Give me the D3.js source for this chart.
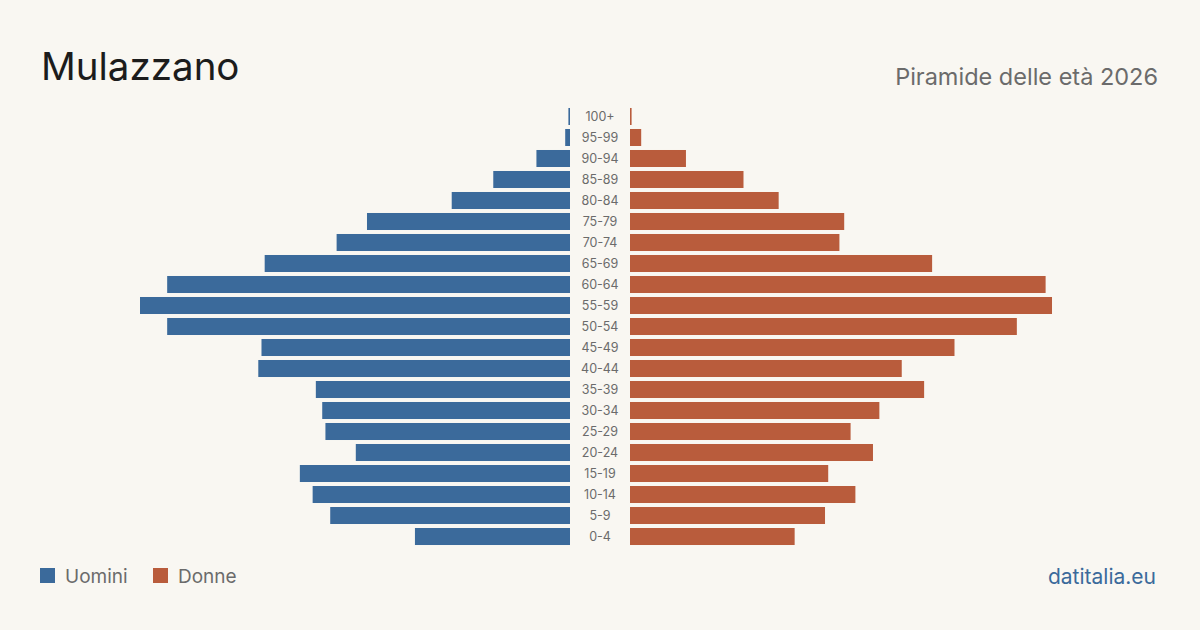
<!DOCTYPE html>
<html>
<head>
<meta charset="utf-8">
<script src="https://cdn.jsdelivr.net/npm/d3@7"></script>
<style>
  body { margin: 0; background: #f9f7f2; }
  svg { display: block; font-family: Inter, "Open Sans", sans-serif; }
</style>
</head>
<body>
<div class="chart"></div>
<script>
const w = 1200;
const h = 630;

// age classes, oldest first (top of the pyramid)
const ages = ["100+", "95-99", "90-94", "85-89", "80-84", "75-79", "70-74", "65-69",
  "60-64", "55-59", "50-54", "45-49", "40-44", "35-39", "30-34", "25-29",
  "20-24", "15-19", "10-14", "5-9", "0-4"];

// residents per class
const uomini = [1, 3, 21, 48, 74, 127, 146, 191, 252, 269, 252, 193, 195, 159, 155, 153, 134, 169, 161, 150, 97];
const donne  = [1, 7, 35, 71, 93, 134, 131, 189, 260, 264, 242, 203, 170, 184, 156, 138, 152, 124, 141, 122, 103];

const legend = [
  {name: "Uomini", color: "#3b6a9b"},
  {name: "Donne", color: "#b95c3c"}
];

const svg = d3.select(".chart").append("svg")
  .attr("width", w)
  .attr("height", h);

svg.append("rect")
  .attr("width", w)
  .attr("height", h)
  .attr("fill", "#f9f7f2");

const y = d3.scaleBand()
  .domain(ages)
  .range([104, 549])
  .padding(0.19);

const x = d3.scaleLinear()
  .domain([0, 269])
  .range([0, 430]);

const leftEdge = 570;
const rightEdge = 630;

// men to the left
svg.append("g").selectAll("rect")
  .data(uomini)
  .enter()
  .append("rect")
  .attr("x", d => leftEdge - x(d))
  .attr("y", (d, i) => y(ages[i]))
  .attr("width", d => x(d))
  .attr("height", y.bandwidth())
  .attr("fill", legend[0].color);

// women to the right
svg.append("g").selectAll("rect")
  .data(donne)
  .enter()
  .append("rect")
  .attr("x", rightEdge)
  .attr("y", (d, i) => y(ages[i]))
  .attr("width", d => x(d))
  .attr("height", y.bandwidth())
  .attr("fill", legend[1].color);

// age labels in the middle
svg.append("g").selectAll("text")
  .data(ages)
  .enter()
  .append("text")
  .attr("x", (leftEdge + rightEdge) / 2)
  .attr("y", d => y(d) + y.bandwidth() / 2 + 0.5)
  .attr("dy", "0.35em")
  .attr("text-anchor", "middle")
  .attr("font-size", 12.5)
  .attr("fill", "#6b6b6b")
  .text(d => d);

// titles
svg.append("text")
  .attr("x", 41)
  .attr("y", 80)
  .attr("font-size", 38.5)
  .attr("fill", "#1c1c1c")
  .text("Mulazzano");

svg.append("text")
  .attr("x", 1158)
  .attr("y", 85)
  .attr("text-anchor", "end")
  .attr("font-size", 23.5)
  .attr("fill", "#6b6b6b")
  .text("Piramide delle età 2026");

// legend
const lg = svg.append("g").selectAll("g")
  .data(legend)
  .enter()
  .append("g")
  .attr("transform", (d, i) => `translate(${40 + i * 113}, 568)`);

lg.append("rect")
  .attr("width", 15)
  .attr("height", 15)
  .attr("fill", d => d.color);

lg.append("text")
  .attr("x", 25)
  .attr("y", 15)
  .attr("font-size", 19)
  .attr("fill", "#6b6b6b")
  .text(d => d.name);

svg.append("text")
  .attr("x", 1156)
  .attr("y", 584)
  .attr("text-anchor", "end")
  .attr("font-size", 21)
  .attr("fill", "#3b6a9b")
  .text("datitalia.eu");
</script>
</body>
</html>
